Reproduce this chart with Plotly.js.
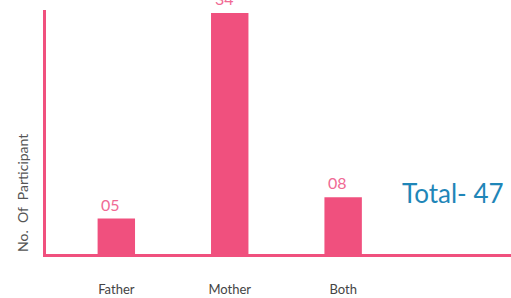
<!DOCTYPE html>
<html><head><meta charset="utf-8">
<script src="https://cdn.plot.ly/plotly-3.0.1.min.js"></script>
<style>html,body{margin:0;padding:0;background:#fff}#c{width:511px;height:298px}</style>
</head><body><div id="c"></div>
<script>
const categories = ["Father", "Mother", "Both"];
const values = [5, 34, 8];
const valueLabels = ["05", "34", "08"];
const totalLabel = "Total- 47";
const yTitle = "No.  Of  Participant";

const pink = "#F0507E";
const L = 46, T = 10, W = 511 - 46, H = 244, B = 44;
const barW = 0.33;
const ann = categories.map((c, i) => ({
  x: c, y: values[i], xref: "x", yref: "y", text: valueLabels[i],
  showarrow: false, yanchor: "bottom", xanchor: "left", yshift: 3, xshift: -17,
  font: {family: "Lato", size: 16, color: "#F06A94"}
}));
ann.push({
  x: (506 - L) / W, y: (254 - 193) / H, xref: "paper", yref: "paper", text: totalLabel, showarrow: false,
  xanchor: "right", yanchor: "middle", font: {family: "Lato", size: 26, color: "#1F86B8"}
});
ann.push({
  x: (22 - L) / W, y: (254 - 193) / H, xref: "paper", yref: "paper", text: yTitle, showarrow: false,
  textangle: -90, xanchor: "center", yanchor: "middle",
  font: {family: "Lato", size: 14, color: "#555"}
});

Plotly.newPlot("c", [{
  type: "bar", x: categories, y: values, width: barW,
  marker: {color: pink}, hoverinfo: "none"
}], {
  width: 511, height: 298,
  margin: {l: L, r: 0, t: T, b: B},
  paper_bgcolor: "#fff", plot_bgcolor: "#fff",
  showlegend: false,
  xaxis: {
    range: [-0.62, 3.48], showline: true, linecolor: pink, linewidth: 3,
    showgrid: false, zeroline: false, ticks: "", ticklabelstandoff: 21,
    tickfont: {family: "Lato", size: 13, color: "#444"}
  },
  yaxis: {
    range: [0, 34.42], showline: true, linecolor: pink, linewidth: 3,
    showgrid: false, zeroline: false, showticklabels: false, ticks: ""
  },
  annotations: ann
}, {staticPlot: true});
</script></body></html>
